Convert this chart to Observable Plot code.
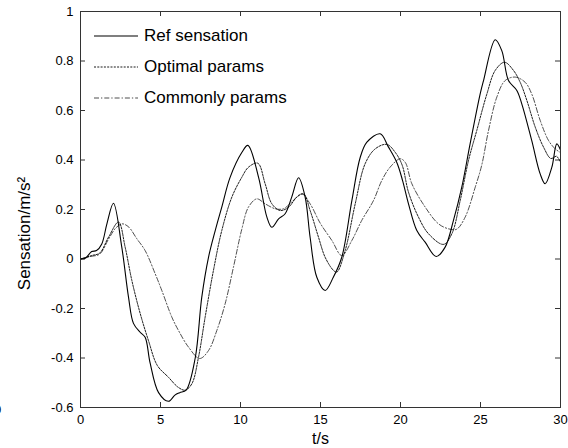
<!DOCTYPE html>
<html>
<head>
<meta charset="utf-8">
<script src="https://cdn.jsdelivr.net/npm/d3@7"></script>
<script src="https://cdn.jsdelivr.net/npm/@observablehq/plot@0.6"></script>
<style>
  html, body { margin: 0; padding: 0; background: #fff; overflow: hidden; }
  #wrap { position: relative; width: 568px; height: 448px; font-family: "Liberation Sans", Arial, sans-serif; }
  #legend { position: absolute; left: 94px; top: 25px; font-size: 17px; color: #000; }
  .row { position: absolute; left: 0; white-space: nowrap; height: 22px; line-height: 22px; }
  .row svg { position: absolute; left: 0; top: 0; }
  .row span { position: absolute; left: 50px; top: 0; }
  #stray { position: absolute; left: -6px; top: 402px; font-size: 13px; color: #000; }
</style>
</head>
<body>
<div id="wrap"></div>
<script>
// ---- data ----
const seriesNames = ["Ref sensation", "Optimal params", "Commonly params"];

const refT = [0, 0.3, 0.7, 1.0, 1.33, 1.65, 2.06, 2.58, 3.0, 3.31, 3.73, 4.04, 4.35, 4.88, 5.5, 5.9, 6.2, 6.6, 7.17, 7.58, 8.0, 8.42, 8.83, 9.35, 10.08, 10.46, 11.13, 11.65, 11.96, 12.38, 12.79, 13.2, 13.63, 14.04, 14.35, 14.77, 15.29, 15.8, 16.33, 16.96, 17.48, 17.9, 18.73, 19.25, 19.77, 20.13, 20.5, 21.02, 21.54, 22.23, 22.79, 23.31, 23.83, 24.35, 24.98, 25.19, 25.92, 26.33, 26.75, 27.27, 27.58, 28.2, 28.73, 29.04, 29.46, 29.77, 30];
const refV = [0, 0.003, 0.03, 0.034, 0.061, 0.142, 0.225, 0.048, -0.154, -0.26, -0.296, -0.316, -0.42, -0.54, -0.575, -0.55, -0.54, -0.53, -0.40, -0.154, 0.007, 0.115, 0.21, 0.33, 0.43, 0.459, 0.33, 0.169, 0.128, 0.162, 0.183, 0.25, 0.328, 0.25, 0.088, -0.074, -0.127, -0.074, 0.007, 0.236, 0.41, 0.472, 0.506, 0.452, 0.39, 0.317, 0.223, 0.115, 0.068, 0.01, 0.048, 0.156, 0.29, 0.465, 0.667, 0.721, 0.886, 0.842, 0.721, 0.681, 0.627, 0.479, 0.344, 0.304, 0.371, 0.465, 0.44];

const optT = [0, 0.7, 1.2, 1.75, 2.375, 2.79, 3.21, 3.73, 4.25, 4.8, 5.5, 6.1, 6.54, 6.96, 7.375, 7.79, 8.31, 8.83, 9.46, 10.08, 10.5, 11.08, 11.54, 11.96, 12.48, 13.0, 13.52, 13.94, 14.35, 14.875, 15.29, 15.81, 16.02, 16.54, 17.17, 17.79, 18.42, 19.15, 19.67, 20.1, 20.5, 21.125, 21.75, 22.69, 23.21, 23.73, 24.25, 24.77, 25.4, 25.92, 26.5, 27.06, 27.48, 27.9, 28.42, 28.94, 29.4, 29.75, 30];
const optV = [0, 0.014, 0.024, 0.088, 0.149, 0.048, -0.087, -0.22, -0.33, -0.43, -0.478, -0.518, -0.53, -0.504, -0.397, -0.235, -0.046, 0.115, 0.25, 0.33, 0.371, 0.387, 0.304, 0.223, 0.196, 0.209, 0.25, 0.263, 0.196, 0.088, 0.007, -0.046, -0.053, 0.034, 0.223, 0.385, 0.445, 0.463, 0.431, 0.38, 0.27, 0.169, 0.102, 0.059, 0.102, 0.236, 0.398, 0.52, 0.667, 0.762, 0.795, 0.762, 0.714, 0.64, 0.533, 0.452, 0.406, 0.415, 0.39];

const comT = [0, 0.6, 1.2, 1.75, 2.2, 2.6, 3.0, 3.52, 4.04, 4.67, 5.08, 5.71, 6.125, 6.75, 7.45, 8.0, 8.52, 9.04, 9.56, 10.08, 10.5, 11.02, 11.54, 12.17, 12.69, 13.2, 13.83, 14.35, 14.98, 15.71, 16.33, 16.96, 17.58, 18.31, 18.83, 19.35, 19.98, 20.3, 20.71, 21.54, 22.375, 23.0, 23.5, 24.04, 24.67, 25.08, 25.5, 26.02, 26.54, 27.17, 27.79, 28.2, 28.73, 29.25, 29.67, 30];
const comV = [0, 0.01, 0.02, 0.08, 0.125, 0.142, 0.13, 0.082, 0.034, -0.06, -0.127, -0.235, -0.289, -0.356, -0.402, -0.37, -0.289, -0.181, -0.033, 0.12, 0.21, 0.243, 0.223, 0.203, 0.203, 0.23, 0.263, 0.223, 0.145, 0.075, 0.014, 0.075, 0.156, 0.236, 0.317, 0.371, 0.405, 0.39, 0.304, 0.21, 0.142, 0.122, 0.12, 0.169, 0.29, 0.38, 0.519, 0.654, 0.721, 0.735, 0.714, 0.667, 0.56, 0.479, 0.445, 0.43];

const xTicks = [0, 5, 10, 15, 20, 25, 30];
const yTicks = [-0.6, -0.4, -0.2, 0, 0.2, 0.4, 0.6, 0.8, 1];
const yTickLabels = ["-0.6", "-0.4", "-0.2", "0", "0.2", "0.4", "0.6", "0.8", "1"];
const xLabel = "t/s";
const yLabel = "Sensation/m/s\u00B2";

// ---- build ----
const toRows = (T, V) => T.map((t, i) => ({t, v: V[i]}));
const ref = toRows(refT, refV);
const opt = toRows(optT, optV);
const com = toRows(comT, comV);

const W = 568, H = 448;
const mL = 80, mR = 8, mT = 11, mB = 41;
const innerH = H - mT - mB;
const innerW = W - mL - mR;
const tk = 5;

const styles = [
  {stroke: "#000", strokeWidth: 1.1, dash: null},
  {stroke: "#000", strokeWidth: 0.9, dash: "2,1.3"},
  {stroke: "#222", strokeWidth: 0.8, dash: "5,2,1.3,2"}
];

const chart = Plot.plot({
  width: W, height: H,
  marginLeft: mL, marginRight: mR, marginTop: mT, marginBottom: mB,
  style: {fontFamily: "'Liberation Sans', Arial, sans-serif", fontSize: "13px", background: "#fff", color: "#000"},
  x: {domain: [0, 30]},
  y: {domain: [-0.6, 1]},
  marks: [
    // inward ticks on all four sides
    Plot.tickX(xTicks, {x: d => d, insetTop: innerH - tk, stroke: "#333"}),
    Plot.tickX(xTicks, {x: d => d, insetBottom: innerH - tk, stroke: "#333"}),
    Plot.tickY(yTicks, {y: d => d, insetRight: innerW - tk, stroke: "#333"}),
    Plot.tickY(yTicks, {y: d => d, insetLeft: innerW - tk, stroke: "#333"}),
    Plot.axisX(xTicks, {tickSize: 0, tickPadding: 7, label: null, fontSize: 13}),
    Plot.axisY(yTicks, {tickSize: 0, tickPadding: 7, label: null, fontSize: 13,
      tickFormat: (d) => yTickLabels[yTicks.indexOf(d)]}),
    Plot.line(com, {x: "t", y: "v", curve: "catmull-rom", stroke: styles[2].stroke, strokeWidth: styles[2].strokeWidth, strokeDasharray: styles[2].dash}),
    Plot.line(opt, {x: "t", y: "v", curve: "catmull-rom", stroke: styles[1].stroke, strokeWidth: styles[1].strokeWidth, strokeDasharray: styles[1].dash}),
    Plot.line(ref, {x: "t", y: "v", curve: "catmull-rom", stroke: styles[0].stroke, strokeWidth: styles[0].strokeWidth}),
    Plot.frame({stroke: "#333", strokeWidth: 1}),
    Plot.text([xLabel], {frameAnchor: "bottom", dy: 36, fontSize: 16, text: d => d, fill: "#000"}),
    Plot.text([yLabel], {frameAnchor: "left", dx: -56, dy: 24, rotate: -90, textAnchor: "middle", fontSize: 17, text: d => d, fill: "#000"})
  ]
});

const wrap = document.getElementById("wrap");
wrap.appendChild(chart);

// legend (real text)
const legend = document.createElement("div");
legend.id = "legend";
seriesNames.forEach((name, i) => {
  const row = document.createElement("div");
  row.className = "row";
  row.style.top = (i * 30.8) + "px";
  const s = styles[i];
  row.innerHTML = `<svg width="46" height="22"><line x1="0" x2="44" y1="11" y2="11" stroke="${s.stroke}" stroke-width="${s.strokeWidth}" ${s.dash ? `stroke-dasharray="${s.dash}"` : ""}/></svg><span>${name}</span>`;
  legend.appendChild(row);
});
wrap.appendChild(legend);

// clipped glyph at the far left edge of the reference
const stray = document.createElement("div");
stray.id = "stray";
stray.textContent = "0";
wrap.appendChild(stray);
</script>
</body>
</html>
